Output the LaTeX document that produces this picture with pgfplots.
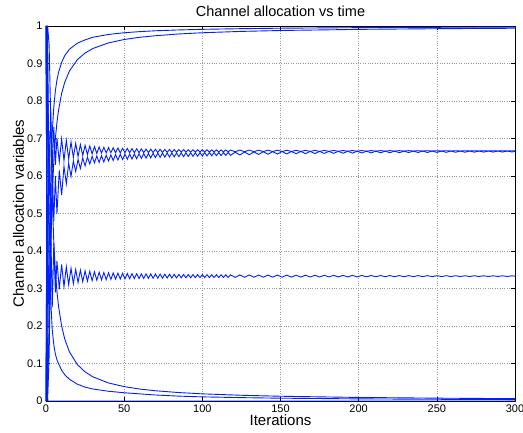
\documentclass[border=0pt]{standalone}
\usepackage{fontspec}
\setmainfont{Liberation Sans}
\usepackage{pgfplots}
\usepackage{pgfplotstable}
\pgfplotsset{compat=1.18}

% oscillating variables: C -> 1/3, U -> 2/3 from above, L -> 2/3 from below
\pgfplotstableread{
x C U L
0 0.000 0.000 1.000
1 0.550 0.900 0.250
2 0.150 0.550 0.720
3 0.470 0.780 0.400
4 0.250 0.620 0.620
5 0.420 0.730 0.480
6 0.290 0.630 0.600
7 0.373 0.701 0.500
8.5 0.298 0.638 0.615
10 0.364 0.699 0.549
11.5 0.305 0.641 0.626
13 0.358 0.695 0.579
14.5 0.310 0.645 0.634
16 0.354 0.691 0.599
17.5 0.313 0.649 0.640
19 0.351 0.687 0.612
20.5 0.316 0.652 0.644
22 0.349 0.684 0.620
23.5 0.318 0.655 0.648
25 0.347 0.682 0.627
26.5 0.3195 0.657 0.6505
28 0.346 0.680 0.632
29.5 0.321 0.659 0.6525
31 0.3445 0.6785 0.635
32.5 0.322 0.660 0.6534
34 0.3435 0.6775 0.6362
35.5 0.323 0.661 0.6542
37 0.3427 0.6767 0.6374
38.5 0.3236 0.6616 0.6554
40 0.342 0.676 0.640
41.5 0.3242 0.6622 0.6564
43 0.3415 0.6753 0.6412
44.5 0.3248 0.662 0.6571
46 0.341 0.6746 0.6425
47.5 0.3253 0.6618 0.6578
49 0.3405 0.674 0.6439
50.5 0.3257 0.6621 0.6582
52 0.3401 0.6735 0.6446
53.5 0.3261 0.6622 0.6586
55 0.3398 0.673 0.6453
56.5 0.3264 0.6622 0.6589
58 0.3395 0.6726 0.6461
59.5 0.3267 0.6622 0.6594
61 0.3392 0.6722 0.6469
62.5 0.3269 0.6622 0.6597
64 0.339 0.6718 0.6477
65.5 0.3271 0.6623 0.660
67 0.3388 0.6716 0.6484
68.5 0.3273 0.6625 0.6604
70 0.3386 0.6714 0.6492
71.5 0.3275 0.6627 0.6609
73 0.3384 0.6712 0.6498
74.5 0.3277 0.6629 0.6611
76 0.3382 0.671 0.6503
77.5 0.3279 0.6631 0.6613
79 0.338 0.6708 0.6507
80.5 0.3281 0.6633 0.6614
82 0.3378 0.6706 0.651
83.5 0.3283 0.6634 0.6614
85 0.3376 0.6705 0.6513
86.5 0.3285 0.6636 0.6615
88 0.3375 0.6704 0.6516
89.5 0.3286 0.6637 0.6616
91 0.3373 0.6702 0.6521
92.5 0.3287 0.6638 0.6619
94 0.3372 0.6701 0.6524
95.5 0.3289 0.6639 0.662
97 0.3371 0.670 0.6528
98.5 0.329 0.664 0.6623
100 0.337 0.6699 0.6534
101.5 0.3291 0.6641 0.6625
103 0.3369 0.6698 0.6536
104.5 0.3292 0.6642 0.6626
106 0.3368 0.6697 0.6539
107.5 0.3293 0.6643 0.6627
109 0.3367 0.6696 0.6542
110.5 0.3294 0.6644 0.6628
112 0.3366 0.6695 0.6545
113.5 0.3295 0.6645 0.6629
115 0.3365 0.6694 0.6548
116.5 0.3296 0.6646 0.663
118 0.3364 0.6693 0.655
121 0.3297 0.6647 0.6635
124 0.3362 0.6692 0.6561
127 0.3299 0.6648 0.664
130 0.3361 0.6691 0.6568
133 0.330 0.6649 0.6643
136 0.336 0.669 0.6575
139 0.3301 0.665 0.6647
142 0.3358 0.6689 0.658
145 0.3302 0.6651 0.665
148 0.3357 0.6688 0.6585
151 0.3303 0.6652 0.6653
154 0.3356 0.6687 0.6589
157 0.3304 0.6653 0.6654
160 0.3355 0.6686 0.6592
163 0.3305 0.6654 0.6655
166 0.3354 0.6685 0.6595
169 0.3306 0.6655 0.6656
172 0.3353 0.6684 0.6598
175 0.3307 0.6656 0.6657
178 0.3352 0.6683 0.6601
181 0.3308 0.6657 0.6658
184 0.3351 0.6682 0.6604
187 0.3309 0.6658 0.6659
190 0.335 0.6681 0.6607
193 0.331 0.6659 0.666
196 0.3349 0.668 0.661
199 0.3311 0.666 0.6661
202 0.3348 0.6679 0.6613
205 0.3312 0.6661 0.6662
208 0.3347 0.6678 0.6616
211 0.3313 0.6662 0.6663
214 0.3346 0.6677 0.6618
217 0.3314 0.6663 0.6663
220 0.3346 0.6677 0.6621
223 0.3315 0.6663 0.6664
226 0.3345 0.6676 0.6622
229 0.3315 0.6664 0.6664
232 0.3344 0.6676 0.6625
235 0.3316 0.6664 0.6665
238 0.3344 0.6675 0.6627
241 0.3317 0.6665 0.6665
244 0.3343 0.6675 0.6628
247 0.3317 0.6665 0.6665
250 0.3342 0.6674 0.663
253 0.3318 0.6666 0.6666
256 0.3342 0.6674 0.6632
259 0.3318 0.6666 0.6666
262 0.3341 0.6673 0.6633
265 0.3319 0.6666 0.6666
268 0.3341 0.6673 0.6634
271 0.3319 0.6667 0.6667
274 0.334 0.6672 0.6636
277 0.332 0.6667 0.6666
280 0.334 0.6672 0.6637
283 0.332 0.6667 0.6667
286 0.3339 0.6671 0.6638
289 0.3321 0.6667 0.6667
292 0.3339 0.6671 0.6639
295 0.3321 0.6667 0.6667
298 0.3338 0.6671 0.6641
300 0.333 0.6669 0.6654
}\osc

\begin{document}
\begin{tikzpicture}
\begin{axis}[
  name=ax,
  scale only axis,
  width=469pt, height=375pt,
  xmin=0, xmax=300, ymin=0, ymax=1,
  xtick={0,50,...,300},
  ytick={0,0.1,...,1},
  grid=major,
  major grid style={dotted, black!40, line width=0.5pt},
  tick align=inside,
  major tick length=4pt,
  axis line style={black, line width=0.9pt},
  tick style={black, line width=0.5pt},
  clip=false,
  /pgf/number format/assume math mode=true,
  ticklabel style={font=\fontsize{11}{11}\selectfont},
  title={Channel allocation vs time},
  title style={font=\fontsize{14.5}{16}\selectfont, at={(axis description cs:0.5,1)}, anchor=base, yshift=3pt},
  xlabel={Iterations},
  xlabel style={font=\fontsize{15}{16}\selectfont, at={(axis description cs:0.5,0)}, anchor=base, yshift=-24.5pt},
  ylabel={Channel allocation variables},
  ylabel style={font=\fontsize{15}{16}\selectfont, at={(axis description cs:-0.047,0.5)}, anchor=base},
  cycle list={blue!88!cyan,mark=none,line width=0.9pt\\},
]
% variables converging to 1
\addplot coordinates {(0,0)(1,0.02)(2,0.2)(3,0.58)(4,0.716)(5,0.785)(6,0.827)(7,0.856)(8,0.876)(10,0.903)(12,0.921)(15,0.938)(20,0.954)(25,0.963)(30,0.970)(40,0.9775)(50,0.982)(60,0.985)(70,0.9873)(85,0.9895)(100,0.9911)(125,0.9929)(150,0.9941)(200,0.9956)(250,0.9965)(300,0.9971)};
\addplot coordinates {(0,1)(1,0.0)(2,0.12)(3,0.4)(4,0.55)(5,0.64)(6,0.70)(7,0.743)(8,0.775)(10,0.82)(12,0.85)(15,0.88)(20,0.91)(25,0.928)(30,0.94)(40,0.955)(50,0.964)(60,0.97)(70,0.974)(85,0.9788)(100,0.982)(125,0.9856)(150,0.988)(200,0.991)(250,0.9928)(300,0.994)};
% variables converging to 0
\addplot coordinates {(0,1)(1,1)(2,0.5)(3,0.27)(4,0.19)(5,0.15)(6,0.125)(7,0.11)(8,0.1)(10,0.082)(12,0.07)(15,0.058)(20,0.045)(25,0.037)(30,0.032)(40,0.026)(50,0.022)(60,0.019)(70,0.016)(85,0.013)(100,0.011)(125,0.009)(150,0.0075)(200,0.0057)(250,0.0046)(300,0.0038)};
\addplot coordinates {(0,0)(1,1)(2,0.95)(3,0.76)(4,0.543)(5,0.422)(6,0.345)(7,0.292)(8,0.253)(10,0.2)(12,0.165)(15,0.131)(20,0.0974)(25,0.0776)(30,0.0644)(40,0.0481)(50,0.0384)(60,0.0319)(70,0.0273)(85,0.0225)(100,0.0191)(125,0.0153)(150,0.0127)(200,0.0095)(250,0.0076)(300,0.0063)};
\addplot coordinates {(0,1)(1,0)(300,0)};
% oscillating variables
\addplot table[x=x, y=C] {\osc};
\addplot table[x=x, y=U] {\osc};
\addplot table[x=x, y=L] {\osc};
\end{axis}
\pgfresetboundingbox
\path[use as bounding box] ([xshift=-46pt, yshift=-31pt]ax.south west) rectangle ([xshift=8pt, yshift=26pt]ax.north east);
\end{tikzpicture}
\end{document}
